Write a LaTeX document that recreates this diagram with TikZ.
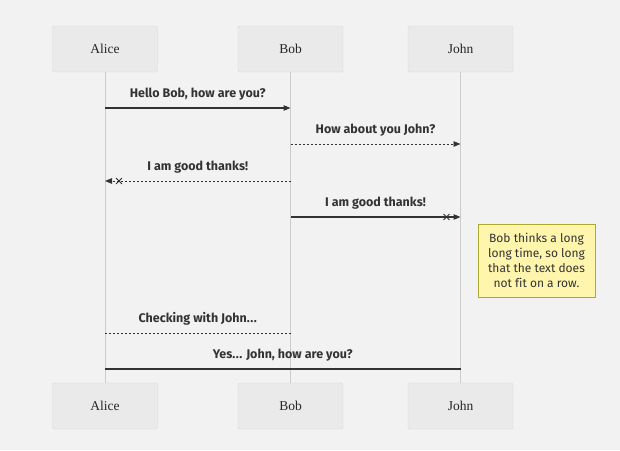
\documentclass[tikz,border=0pt]{standalone}
\usepackage{fontspec}
\setsansfont[Ligatures={NoCommon,TeX}]{Fira Sans}
\newfontfamily\actorfont{Liberation Serif}
\usetikzlibrary{arrows.meta,shapes.misc}
\definecolor{bgcol}{HTML}{F2F2F2}
\definecolor{actorfill}{HTML}{EAEAEA}
\definecolor{actorline}{HTML}{D9D9D9}
\definecolor{lifecol}{HTML}{CCCCCC}
\definecolor{msgcol}{HTML}{333333}
\definecolor{notefill}{HTML}{FFF5AD}
\definecolor{noteline}{HTML}{AAAA33}
\begin{document}
\begin{tikzpicture}[x=1pt,y=-1pt,
    actor/.style={draw=actorline,fill=actorfill,rounded corners=2pt,minimum width=105pt,minimum height=46pt,font=\actorfont\fontsize{13.5}{15}\selectfont,text=black!85},
    life/.style={draw=lifecol,line width=0.8pt},
    msg/.style={draw=msgcol,line width=1.1pt},
    dots/.style={draw=msgcol,line width=0.9pt,dash pattern=on 2pt off 2pt},
    tip/.style={-{Triangle[length=7pt,width=5.5pt]}},
    msglabel/.style={font=\sffamily\bfseries\fontsize{12.5}{14}\selectfont,text=msgcol,anchor=base,yshift=11pt,inner sep=0pt},
    xmark/.style={cross out,draw=msgcol,line width=0.9pt,minimum size=5pt,inner sep=0pt}]
    \fill[bgcol] (0,0) rectangle (620,450);
    \useasboundingbox (0,0) rectangle (620,450);
    % actors, top and bottom
    \node[actor] (aliceT) at (105,49) {Alice};
    \node[actor] (bobT) at (290.5,49) {Bob};
    \node[actor] (johnT) at (460.5,49) {John};
    \node[actor] (aliceB) at (105,406) {Alice};
    \node[actor] (bobB) at (290.5,406) {Bob};
    \node[actor] (johnB) at (460.5,406) {John};
    \draw[life] (aliceT) -- (aliceB);
    \draw[life] (bobT) -- (bobB);
    \draw[life] (johnT) -- (johnB);
    % points on the lifelines
    \coordinate (a1) at (105,108); \coordinate (b1) at (290.5,108);
    \coordinate (b2) at (290.5,144); \coordinate (j2) at (460.5,144);
    \coordinate (b3) at (290.5,181); \coordinate (a3) at (105,181);
    \coordinate (b4) at (290.5,217); \coordinate (j4) at (460.5,217);
    \coordinate (a6) at (105,333); \coordinate (b6) at (290.5,333);
    \coordinate (a7) at (105,369); \coordinate (j7) at (460.5,369);
    % messages
    \draw[msg,tip] (a1) -- (b1) node[midway,msglabel] (m1) {Hello Bob, how are you?};
    \draw[dots,tip] (b2) -- (j2) node[midway,msglabel] (m2) {How about you John?};
    \draw[dots,tip] (b3) -- (a3) node[midway,msglabel] (m3) {I am good thanks!};
    \node[xmark] (x3) at (119,181) {};
    \draw[msg,tip] (b4) -- (j4) node[midway,msglabel] (m4) {I am good thanks!};
    \node[xmark] (x4) at (446.5,217) {};
    \draw[dots] (a6) -- (b6) node[midway,msglabel] (m6) {Checking with John.\kern0.5pt.\kern0.5pt.};
    \draw[msg] (a7) -- (j7) node[midway,msglabel] (m7) {Yes.\kern0.5pt.\kern0.5pt. John, how are you?};
    % note
    \node[draw=noteline,fill=notefill,minimum width=117pt,minimum height=73pt,align=center,
        font=\sffamily\fontsize{12}{15}\selectfont,text=msgcol] (note) at (536.5,260.5)
        {Bob thinks a long\\long time, so long\\that the text does\\not fit on a row.};
\end{tikzpicture}
\end{document}
